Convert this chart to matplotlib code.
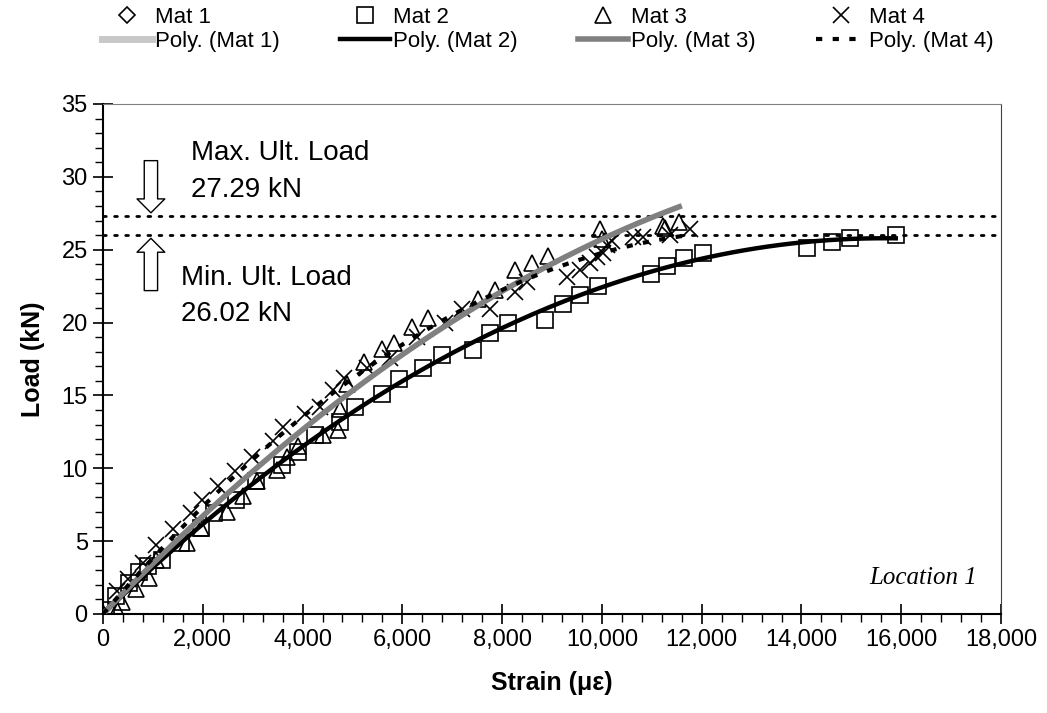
import numpy as np
import matplotlib.pyplot as plt
from matplotlib.patches import FancyArrowPatch
from matplotlib.ticker import MultipleLocator, StrMethodFormatter
from matplotlib.lines import Line2D

plt.rcParams['font.family'] = ['Liberation Sans', 'DejaVu Sans']

# Mat 1 has no visible points in the chart
mat1_strain = []
mat1_load = []

mat2_strain = [60, 260, 520, 720, 900, 1185, 1570, 1970, 2230, 2670, 3070, 3580, 3900, 4240,
               4740, 5060, 5590, 5930, 6410, 6790, 7410, 7750, 8120, 8860, 9220, 9560, 9920,
               10990, 11310, 11650, 12030, 14120, 14620, 14970, 15890]
mat2_load = [0.3, 1.2, 2.1, 2.9, 3.3, 3.7, 4.9, 5.9, 6.9, 7.8, 9.1, 10.2, 11.1, 12.3,
             13.2, 14.2, 15.1, 16.1, 16.9, 17.8, 18.1, 19.3, 20.0, 20.2, 21.3, 21.9, 22.5,
             23.3, 23.9, 24.4, 24.8, 25.1, 25.5, 25.8, 26.0]

mat3_strain = [0, 280, 380, 660, 920, 1070, 1690, 1970, 2480, 2800, 3090, 3480, 3680, 3900,
               4400, 4700, 4760, 4900, 5240, 5590, 5840, 6190, 6510, 7510, 7850, 8260, 8600,
               8910, 9960, 10000, 11230, 11270, 11550]
mat3_load = [0.1, 0.3, 0.8, 1.7, 2.5, 3.7, 4.9, 5.9, 7.0, 8.1, 9.1, 9.9, 10.8, 11.5,
             12.3, 12.6, 14.1, 15.8, 17.3, 18.2, 18.6, 19.7, 20.3, 21.6, 22.2, 23.6, 24.1,
             24.6, 26.4, 25.7, 26.6, 26.5, 26.9]

mat4_strain = [0, 280, 500, 800, 1065, 1400, 1770, 1990, 2300, 2650, 2990, 3400, 3600, 4040,
               4340, 4600, 4840, 5300, 5750, 6300, 6850, 7190, 7750, 8260, 8500, 9300, 9560,
               9760, 9900, 10020, 10100, 10200, 10630, 10830, 11370, 11770]
mat4_load = [0.2, 1.6, 2.4, 3.5, 4.7, 5.8, 6.9, 7.8, 8.8, 9.8, 10.8, 11.9, 12.8, 13.7,
             14.2, 15.4, 16.2, 16.9, 17.6, 19.0, 20.0, 20.9, 20.9, 22.1, 22.8, 23.1, 23.6,
             24.1, 24.5, 24.8, 25.3, 25.6, 25.9, 25.9, 26.0, 26.4]

max_ult = 27.29
min_ult = 26.02


def poly_fit(xs, ys):
    # 2nd order trendline with intercept set to 0
    xs = np.array(xs, dtype=float)
    A = np.column_stack([xs, xs ** 2])
    c = np.linalg.lstsq(A, np.array(ys, dtype=float), rcond=None)[0]
    xx = np.linspace(0, xs.max(), 200)
    return xx, c[0] * xx + c[1] * xx ** 2


fig = plt.figure(figsize=(10.47, 7.13), dpi=100)
ax = fig.add_axes([0.0984, 0.1389, 0.8577, 0.7153])

mk = dict(linestyle='none', mfc='none', mec='black', mew=1.2, ms=12)
h1, = ax.plot(mat1_strain, mat1_load, marker='D', label='Mat 1', **dict(mk, ms=8))
h2, = ax.plot(mat2_strain, mat2_load, marker='s', label='Mat 2', **mk)
h3, = ax.plot(mat3_strain, mat3_load, marker='^', label='Mat 3', **mk)
h4, = ax.plot(mat4_strain, mat4_load, marker='x', label='Mat 4', **mk)

p1 = Line2D([], [], color='#c8c8c8', lw=5, label='Poly. (Mat 1)')
xx, yy = poly_fit(mat2_strain, mat2_load)
p2, = ax.plot(xx, yy, color='black', lw=3.2, label='Poly. (Mat 2)', zorder=4)
xx, yy = poly_fit(mat3_strain, mat3_load)
p3, = ax.plot(xx, yy, color='#808080', lw=4, label='Poly. (Mat 3)', zorder=4)
xx, yy = poly_fit(mat4_strain, mat4_load)
p4, = ax.plot(xx, yy, color='black', lw=3, dashes=(1.5, 2.5), label='Poly. (Mat 4)', zorder=5)

ax.axhline(max_ult, color='black', lw=2, ls=(0, (1, 3)), dash_capstyle='round')
ax.axhline(min_ult, color='black', lw=2, ls=(0, (1, 3)), dash_capstyle='round')

arrow_style = 'simple,head_length=0.5,head_width=1.0,tail_width=0.48'
ax.add_patch(FancyArrowPatch((960, 31.3), (960, max_ult + 0.05), arrowstyle=arrow_style,
                             mutation_scale=20, fc='white', ec='black', lw=1, zorder=6))
ax.add_patch(FancyArrowPatch((960, 22.0), (960, min_ult - 0.05), arrowstyle=arrow_style,
                             mutation_scale=20, fc='white', ec='black', lw=1, zorder=6))

ax.text(1760, 31.6, 'Max. Ult. Load', fontsize=20, va='center')
ax.text(1760, 29.1, '%.2f kN' % max_ult, fontsize=20, va='center')
ax.text(1560, 23.05, 'Min. Ult. Load', fontsize=20, va='center')
ax.text(1560, 20.6, '%.2f kN' % min_ult, fontsize=20, va='center')
ax.text(15350, 2.5, 'Location 1', fontsize=18, style='italic', va='center',
        family=['Liberation Serif', 'DejaVu Serif'])

ax.set_xlim(0, 18000)
ax.set_ylim(0, 35)
ax.xaxis.set_major_locator(MultipleLocator(2000))
ax.xaxis.set_minor_locator(MultipleLocator(400))
ax.yaxis.set_major_locator(MultipleLocator(5))
ax.yaxis.set_minor_locator(MultipleLocator(1))
ax.xaxis.set_major_formatter(StrMethodFormatter('{x:,.0f}'))
ax.tick_params(which='major', direction='inout', length=14, width=1.2, labelsize=17, pad=4)
ax.tick_params(which='minor', direction='out', length=6, width=1)
for s in ['left', 'bottom']:
    ax.spines[s].set_linewidth(1.5)
ax.spines['top'].set_color('#808080')
ax.spines['right'].set_color('#404040')

ax.set_xlabel('Strain (\u03bc\u03b5)', fontsize=18, fontweight='bold', labelpad=14)
ax.set_ylabel('Load (kN)', fontsize=18, fontweight='bold', labelpad=12)

fig.legend([h1, p1, h2, p2, h3, p3, h4, p4],
           [h.get_label() for h in [h1, p1, h2, p2, h3, p3, h4, p4]],
           ncol=4, loc='upper center', bbox_to_anchor=(0.523, 1.006), frameon=False,
           fontsize=16, handlelength=2.25, handletextpad=0.15, columnspacing=2.7,
           labelspacing=0.15, borderpad=0)

fig.savefig('out.png', dpi=100)
